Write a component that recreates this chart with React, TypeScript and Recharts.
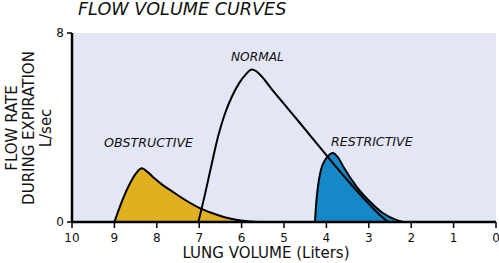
import React from "react";
import { ComposedChart, Area, Line, XAxis, YAxis, CartesianGrid } from "recharts";

// Lung volume (L) and flow rate (L/sec) for each curve
const obstructiveVolume = [9.0, 8.87, 8.67, 8.49, 8.35, 8.22, 8.05, 7.85, 7.6, 7.3, 7.0, 6.7, 6.4, 6.1, 5.8, 5.6];
const obstructiveFlow = [0, 0.65, 1.5, 2.06, 2.27, 2.12, 1.84, 1.55, 1.25, 0.9, 0.6, 0.38, 0.2, 0.08, 0.02, 0];

const normalVolume = [7.02, 6.86, 6.7, 6.55, 6.4, 6.23, 6.05, 5.9, 5.76, 5.6, 5.45, 5.3, 5.0, 4.62, 4.23, 3.92, 3.44, 3.05, 2.74, 2.54];
const normalFlow = [0, 1.2, 2.5, 3.65, 4.55, 5.3, 5.9, 6.25, 6.45, 6.3, 6.0, 5.65, 5.0, 4.18, 3.33, 2.65, 1.64, 0.86, 0.3, 0];

const restrictiveVolume = [4.27, 4.24, 4.2, 4.13, 4.03, 3.93, 3.85, 3.72, 3.6, 3.29, 2.97, 2.66, 2.34, 2.19];
const restrictiveFlow = [0, 0.8, 1.5, 2.2, 2.63, 2.85, 2.92, 2.72, 2.34, 1.5, 0.86, 0.37, 0.08, 0];

const volumeTicks = [10, 9, 8, 7, 6, 5, 4, 3, 2, 1, 0];
const flowTicks = [0, 8];

const title = "FLOW VOLUME CURVES";
const xTitle = "LUNG VOLUME (Liters)";
const yTitleLines = ["FLOW RATE", "DURING EXPIRATION", "L/sec"];
const curveLabels = ["NORMAL", "OBSTRUCTIVE", "RESTRICTIVE"];

const toRows = (xs: number[], ys: number[]) => xs.map((v, i) => ({ volume: v, flow: ys[i] }));

const obstructive = toRows(obstructiveVolume, obstructiveFlow);
const normal = toRows(normalVolume, normalFlow);
const restrictive = toRows(restrictiveVolume, restrictiveFlow);

const FONT = "'DejaVu Sans', Verdana, sans-serif";

export default function App() {
  return (
    <div style={{ position: "absolute", left: 0, top: 0, width: 499, height: 263, background: "#fff", fontFamily: FONT }}>
      <ComposedChart width={499} height={263} margin={{ top: 33, right: 3, bottom: 0, left: 0 }}>
        <CartesianGrid horizontal={false} vertical={false} fill="#e3e6f5" />
        <XAxis
          dataKey="volume"
          type="number"
          domain={[0, 10]}
          reversed
          ticks={volumeTicks}
          interval={0}
          height={41}
          allowDataOverflow
          axisLine={{ stroke: "#000", strokeWidth: 2.5 }}
          tickLine={{ stroke: "#000", strokeWidth: 1.5 }}
          tickSize={6}
          tickMargin={5}
          tick={{ fill: "#111", fontSize: 12, fontFamily: FONT }}
        />
        <YAxis
          type="number"
          domain={[0, 8]}
          ticks={flowTicks}
          width={72}
          allowDataOverflow
          axisLine={{ stroke: "#000", strokeWidth: 2.5 }}
          tickLine={{ stroke: "#000", strokeWidth: 1.5 }}
          tickSize={5}
          tickMargin={3}
          tick={{ fill: "#111", fontSize: 12, fontFamily: FONT }}
        />
        <Area
          data={obstructive}
          dataKey="flow"
          type="monotone"
          fill="#e0b020"
          fillOpacity={1}
          stroke="#000"
          strokeWidth={2}
          isAnimationActive={false}
        />
        <Area
          data={restrictive}
          dataKey="flow"
          type="monotone"
          fill="#1688c8"
          fillOpacity={1}
          stroke="#000"
          strokeWidth={2}
          isAnimationActive={false}
        />
        <Line
          data={normal}
          dataKey="flow"
          type="monotone"
          stroke="#000"
          strokeWidth={2}
          dot={false}
          isAnimationActive={false}
        />
      </ComposedChart>
      <svg
        width={499}
        height={263}
        style={{ position: "absolute", left: 0, top: 0, pointerEvents: "none" }}
      >
        <text x={78} y={15} fontFamily={FONT} fontStyle="italic" fontSize={17.6} fill="#111">
          {title}
        </text>
        {yTitleLines.map((t, i) => (
          <text
            key={t}
            transform={`translate(${17 + i * 17}, 128) rotate(-90)`}
            textAnchor="middle"
            fontFamily={FONT}
            fontSize={15}
            fill="#111"
          >
            {t}
          </text>
        ))}
        <text x={266} y={258} textAnchor="middle" fontFamily={FONT} fontSize={15} fill="#111">
          {xTitle}
        </text>
        <text x={231} y={61} fontFamily={FONT} fontStyle="italic" fontSize={12.2} fill="#111">
          {curveLabels[0]}
        </text>
        <text x={104} y={146.5} fontFamily={FONT} fontStyle="italic" fontSize={12.6} fill="#111">
          {curveLabels[1]}
        </text>
        <text x={331} y={145.5} fontFamily={FONT} fontStyle="italic" fontSize={12.6} fill="#111">
          {curveLabels[2]}
        </text>
      </svg>
    </div>
  );
}
